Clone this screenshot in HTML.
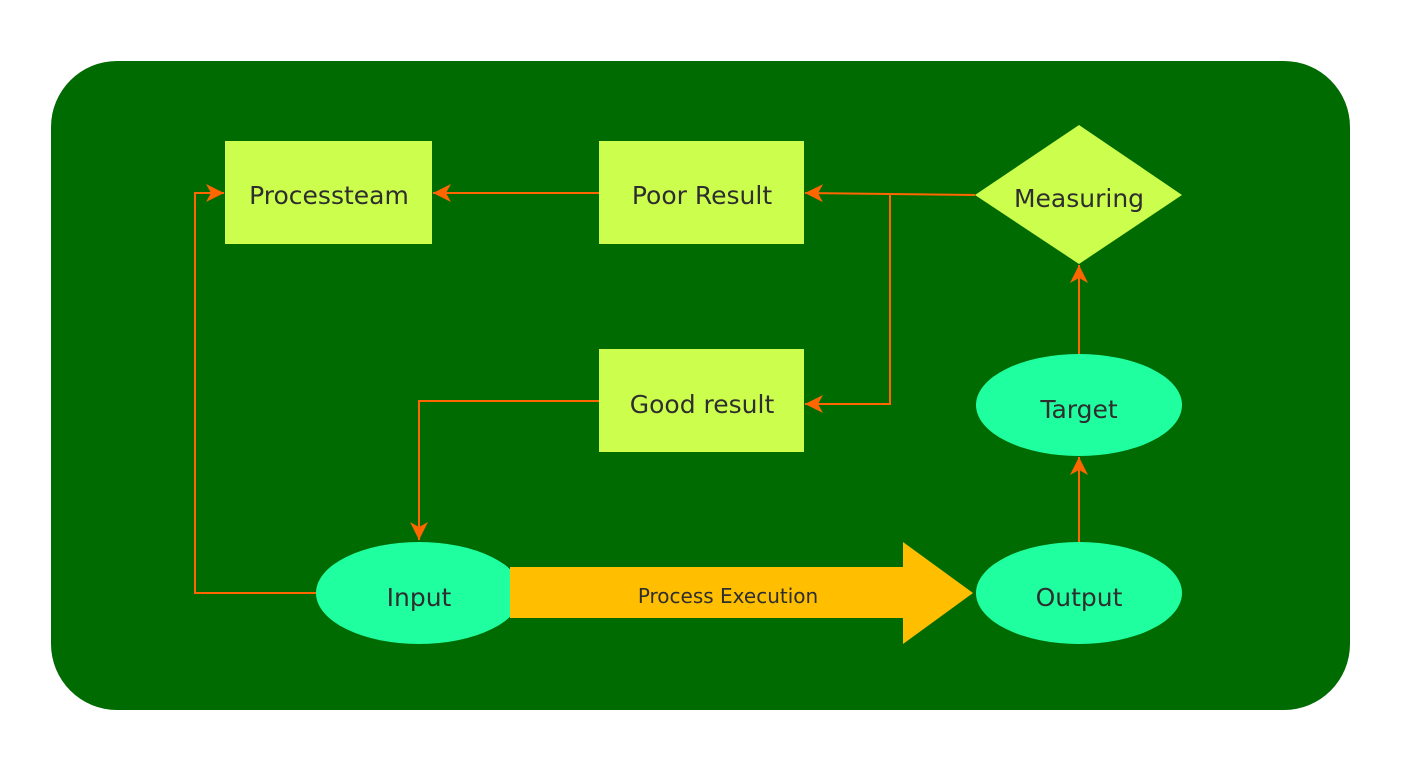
<!DOCTYPE html>
<html><head><meta charset="utf-8"><style>html,body{margin:0;padding:0;background:#fff}svg{display:block}</style></head>
<body>
<svg width="1414" height="764" viewBox="0 0 1414 764" xmlns="http://www.w3.org/2000/svg">
<defs>
<marker id="a" markerWidth="20" markerHeight="18" refX="18" refY="9" orient="auto" markerUnits="userSpaceOnUse">
<path d="M0,0 L18,9 L0,18 L5,9 Z" fill="#ff6600"/>
</marker>
</defs>
<rect x="51" y="61" width="1299" height="649" rx="66" ry="66" fill="#006b00"/>
<g fill="#ccff4d">
<rect x="225" y="141" width="207" height="103"/>
<rect x="599" y="141" width="205" height="103"/>
<rect x="599" y="349" width="205" height="103"/>
<polygon points="975,195 1079,125 1182,195 1079,264"/>
</g>
<g fill="#1fffa0">
<ellipse cx="1079" cy="405" rx="103" ry="51"/>
<ellipse cx="1079" cy="593" rx="103" ry="51"/>
<ellipse cx="419" cy="593" rx="103" ry="51"/>
</g>
<polygon points="510,567 903,567 903,542 973,593 903,644 903,618 510,618" fill="#ffbf00"/>
<g stroke="#ff6600" stroke-width="2" fill="none" marker-end="url(#a)">
<path d="M599,193 L433,193"/>
<path d="M975,195 L805,193"/>
<path d="M890,195 L890,404 L805,404"/>
<path d="M599,401 L419,401 L419,540"/>
<path d="M316,593 L195,593 L195,193 L224,193"/>
<path d="M1079,542 L1079,457"/>
<path d="M1079,354 L1079,265"/>
</g>
<g font-family="'DejaVu Sans', sans-serif" font-size="25" fill="#2e2e2e" text-anchor="middle">
<text x="329" y="204">Processteam</text>
<text x="702" y="204">Poor Result</text>
<text x="702" y="413">Good result</text>
<text x="1079" y="207">Measuring</text>
<text x="1079" y="418">Target</text>
<text x="1079" y="606">Output</text>
<text x="419" y="606">Input</text>
<text x="728" y="603" font-size="20">Process Execution</text>
</g>
</svg>
</body></html>
